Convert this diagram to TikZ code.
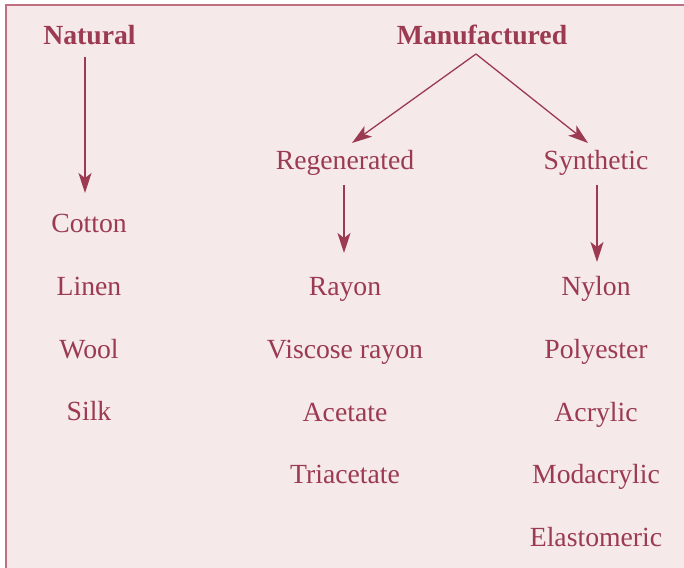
\documentclass[tikz,border=0pt]{standalone}
\usepackage{fontspec}
\setmainfont{Liberation Serif}
\usetikzlibrary{arrows.meta}

\definecolor{fibre}{RGB}{155,58,80}
\definecolor{panel}{RGB}{245,233,234}
\definecolor{edge}{RGB}{192,112,128}

\tikzset{
	head/.style={anchor=base, inner sep=0pt, text=fibre, font=\fontsize{27.7}{32}\selectfont\bfseries},
	sub/.style={anchor=base, inner sep=0pt, text=fibre, font=\fontsize{27.7}{32}\selectfont},
	item/.style={sub},
	arr/.style={draw=fibre, line width=1.3pt, -{Stealth[length=20pt,width=13pt,inset=5pt]}}
}

\begin{document}
\begin{tikzpicture}[x=1pt, y=-1pt]
	\useasboundingbox (0,0) rectangle (684,567);
	\filldraw[fill=panel, draw=edge, line width=1.5pt] (6,5) rectangle (700,585);

	\node[head] (natural) at (89.5,45) {Natural};
	\node[head] (manuf) at (482,45) {Manufactured};
	\node[sub] (regen) at (345,169) {Regenerated};
	\node[sub] (synth) at (596,169) {Synthetic};

	\foreach \t [count=\i] in {Cotton, Linen, Wool, Silk} {
		\node[item] (nat\i) at (89,{232.5+62.8*(\i-1)}) {\t};
	}
	\foreach \t [count=\i] in {Rayon, Viscose rayon, Acetate, Triacetate} {
		\node[item] (reg\i) at (345,{295.5+62.8*(\i-1)}) {\t};
	}
	\foreach \t [count=\i] in {Nylon, Polyester, Acrylic, Modacrylic, Elastomeric} {
		\node[item] (syn\i) at (596,{295.5+62.8*(\i-1)}) {\t};
	}

	\coordinate (split) at ([xshift=-6pt,yshift=-9pt]manuf.base);
	\draw[arr] ([xshift=-4.5pt,yshift=-12pt]natural.base) -- ([xshift=-4pt,yshift=39.5pt]nat1.base);
	\draw[arr] (split) -- ([xshift=7pt,yshift=26pt]regen.base);
	\draw[arr] (split) -- ([xshift=-8pt,yshift=26pt]synth.base);
	\draw[arr] ([xshift=-1pt,yshift=-16pt]regen.base) -- ([xshift=-1pt,yshift=42.5pt]reg1.base);
	\draw[arr] ([xshift=1pt,yshift=-16pt]synth.base) -- ([xshift=1pt,yshift=33.5pt]syn1.base);
\end{tikzpicture}
\end{document}
